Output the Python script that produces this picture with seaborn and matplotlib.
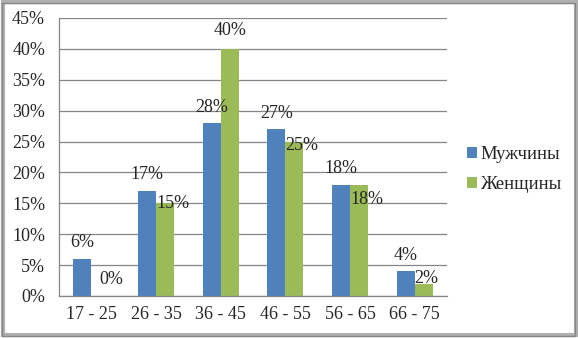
import pandas as pd
import numpy as np
import matplotlib.pyplot as plt
import matplotlib.patches as mpatches
import seaborn as sns

# Data
ages = ["17 - 25", "26 - 35", "36 - 45", "46 - 55", "56 - 65", "66 - 75"]
men = [6, 17, 28, 27, 18, 4]
women = [0, 15, 40, 25, 18, 2]
series = ["Мужчины", "Женщины"]

# label nudges for the green bars (pixels, like the Excel layout)
women_dx = [8, 0, 0, 0, 0, 0]
women_dy = [16, 0, 18, -4, -15, 5]

df = pd.DataFrame({
    "age": ages * 2,
    "value": men + women,
    "sex": [series[0]] * len(ages) + [series[1]] * len(ages),
})

sns.set_style("white")
plt.rcParams["font.family"] = ["Liberation Serif", "DejaVu Serif"]
FS = 13

fig = plt.figure(figsize=(5.78, 3.38), dpi=100)
ax = fig.add_axes([59 / 578, 1 - 296 / 338, 388 / 578, 278 / 338])

sns.barplot(data=df, x="age", y="value", hue="sex", ax=ax,
            palette=["#4F81BD", "#9BBB59"], width=0.56, edgecolor="none",
            saturation=1)

ax.set_ylim(0, 45)
ax.set_xlim(-0.5, len(ages) - 0.5)
ax.set_yticks(range(0, 50, 5))
ax.set_yticklabels([f"{v}%" for v in range(0, 50, 5)], fontsize=FS)
ax.tick_params(axis="x", which="major", length=0, pad=7, labelsize=FS)
ax.set_xticks(np.arange(-0.5, len(ages)), minor=True)
ax.tick_params(axis="x", which="minor", length=5, color="#868686", direction="out")
ax.tick_params(axis="y", length=5, color="#868686", direction="out", pad=5)
ax.set_xlabel("")
ax.set_ylabel("")
ax.yaxis.grid(True, color="#868686", linewidth=0.9)
ax.set_axisbelow(True)
for side in ["top", "right"]:
    ax.spines[side].set_visible(False)
for side in ["left", "bottom"]:
    ax.spines[side].set_color("#868686")
    ax.spines[side].set_linewidth(0.9)

# value labels
men_bars, women_bars = ax.containers[0], ax.containers[1]
for bar, v in zip(men_bars, men):
    ax.annotate(f"{v}%", (bar.get_x() + bar.get_width() / 2, bar.get_height()),
                xytext=(0, 16), textcoords="offset pixels",
                ha="center", va="center", fontsize=FS)
for i, (bar, v) in enumerate(zip(women_bars, women)):
    if i == 2:
        ax.annotate(f"{v}%", (bar.get_x() + bar.get_width() / 2, bar.get_height()),
                    xytext=(0, women_dy[i]), textcoords="offset pixels",
                    ha="center", va="center", fontsize=FS)
    else:
        ax.annotate(f"{v}%", (bar.get_x(), bar.get_height()),
                    xytext=(women_dx[i], women_dy[i]), textcoords="offset pixels",
                    ha="left", va="center", fontsize=FS)

# legend
handles, labels = ax.get_legend_handles_labels()
ax.legend(handles, labels, loc="center left", bbox_to_anchor=(1.028, 0.455),
          frameon=False, fontsize=FS + 0.5, handlelength=0.5, handleheight=0.5,
          handletextpad=0.2, labelspacing=0.7, borderpad=0)

# frame around the chart with a little shadow
fig.patches.append(mpatches.Rectangle((3 / 578, 3 / 338), 573 / 578, 333 / 338,
                                      transform=fig.transFigure, facecolor="none",
                                      edgecolor="#b0b0b0", linewidth=3))
fig.patches.append(mpatches.Rectangle((1.5 / 578, 2.5 / 338), 573 / 578, 333 / 338,
                                      transform=fig.transFigure, facecolor="none",
                                      edgecolor="#868686", linewidth=1))

fig.savefig("out.png", dpi=100)
